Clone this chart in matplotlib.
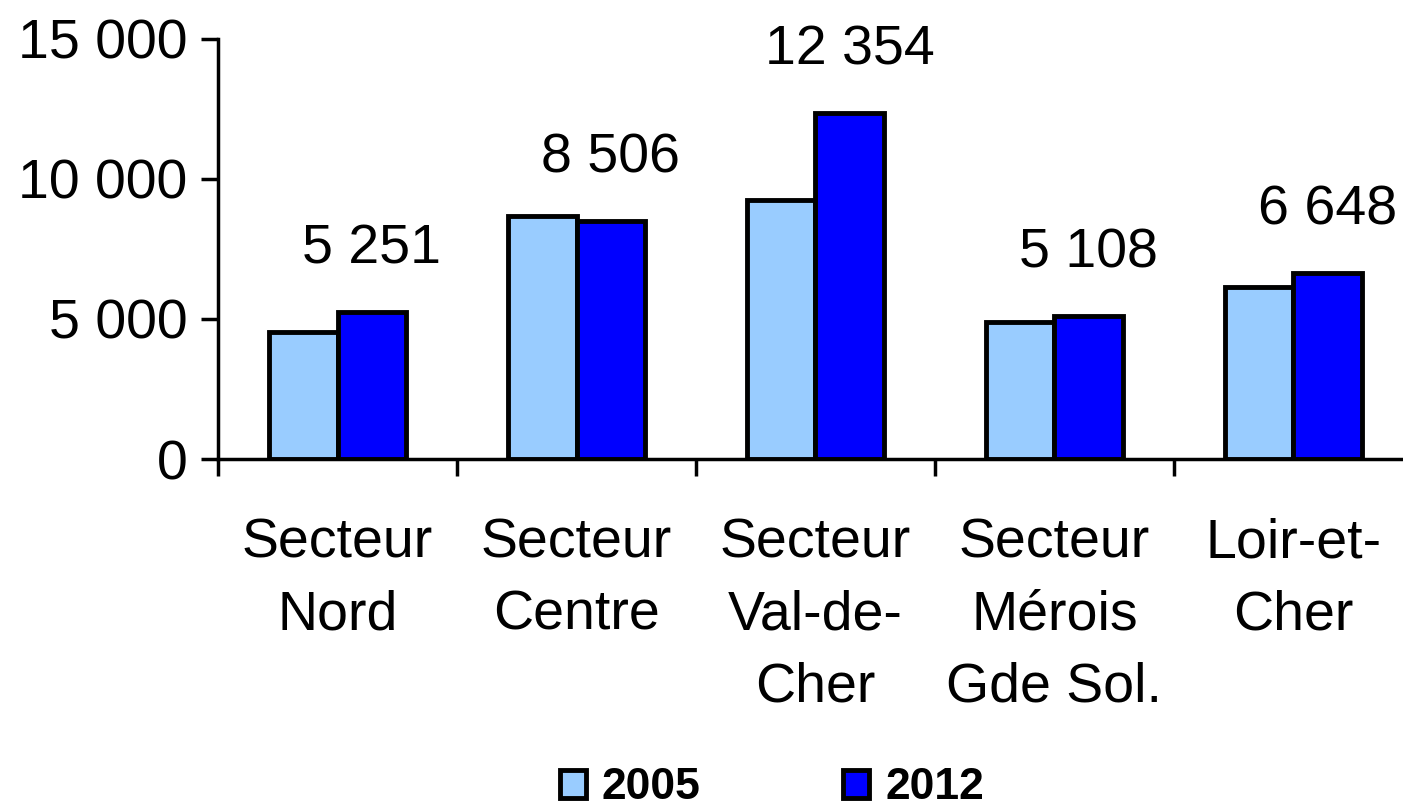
import matplotlib.pyplot as plt
import numpy as np

categories = ["Secteur\nNord", "Secteur\nCentre", "Secteur\nVal-de-\nCher", "Secteur\nMérois\nGde Sol.", "Loir-et-\nCher"]
values_2005 = [4550, 8680, 9230, 4900, 6150]
values_2012 = [5251, 8506, 12354, 5108, 6648]
labels_2012 = ["5 251", "8 506", "12 354", "5 108", "6 648"]

plt.rcParams['font.family'] = ['Liberation Sans', 'DejaVu Sans']

fig = plt.figure(figsize=(14.03, 8.09), dpi=100)
ax = fig.add_axes([0.1554, 0.4326, 0.8517, 0.5194])

x = np.arange(len(categories))
w = 0.285
b1 = ax.bar(x - w / 2, values_2005, w, color='#99CCFF', edgecolor='black', linewidth=3.5, label='2005')
b2 = ax.bar(x + w / 2, values_2012, w, color='#0000FF', edgecolor='black', linewidth=3.5, label='2012')

# value labels above the 2012 bars
for xi, v, lab in zip(x, values_2012, labels_2012):
    ax.annotate(lab, (xi + w / 2, v), xytext=(0, 35), textcoords='offset points',
                ha='center', va='baseline', fontsize=40)

ax.set_xlim(-0.5, 4.5)
ax.set_ylim(0, 15000)
ax.set_yticks([0, 5000, 10000, 15000])
ax.set_yticklabels(["0", "5 000", "10 000", "15 000"], fontsize=40)

# ticks at group boundaries, labels at group centres
ax.set_xticks(np.arange(-0.5, 5, 1))
ax.set_xticklabels([])
ax.set_xticks(x, minor=True)
ax.set_xticklabels(categories, minor=True, fontsize=40, linespacing=1.5)
ax.tick_params(axis='x', which='minor', length=0, pad=42)
ax.tick_params(axis='x', which='major', length=12, width=2.5, direction='out')
ax.tick_params(axis='y', length=12, width=2.5, direction='out', pad=10)

for s in ['top', 'right']:
    ax.spines[s].set_visible(False)
for s in ['left', 'bottom']:
    ax.spines[s].set_linewidth(2.5)

leg = fig.legend(handles=[b1, b2], labels=['2005', '2012'], loc='center',
                 bbox_to_anchor=(0.55, 0.026), ncol=2, frameon=False,
                 prop={'weight': 'bold', 'size': 32}, handlelength=0.6, handleheight=0.6,
                 handletextpad=0.35, columnspacing=3.2, borderpad=0.1)
for h in leg.legend_handles:
    h.set_linewidth(3.5)

fig.savefig('out.png', dpi=100)
